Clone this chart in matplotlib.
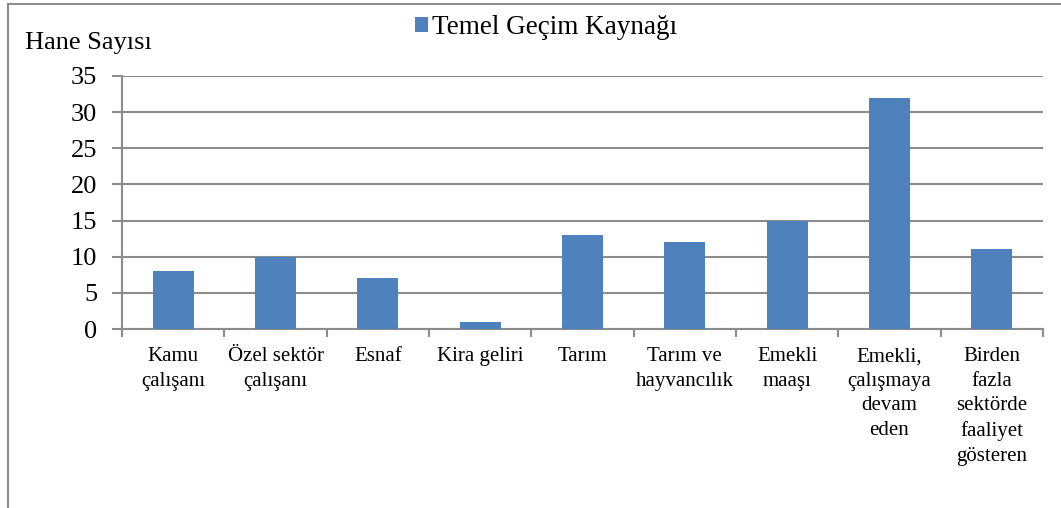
import matplotlib.pyplot as plt
from matplotlib.lines import Line2D
from matplotlib.patches import Patch
import numpy as np

plt.rcParams['font.family'] = ['Liberation Serif', 'DejaVu Serif']

categories = ['Kamu\nçalışanı', 'Özel sektör\nçalışanı', 'Esnaf', 'Kira geliri', 'Tarım',
              'Tarım ve\nhayvancılık', 'Emekli\nmaaşı', 'Emekli,\nçalışmaya\ndevam\neden',
              'Birden\nfazla\nsektörde\nfaaliyet\ngösteren']
values = [8, 10, 7, 1, 13, 12, 15, 32, 11]
yticks = [0, 5, 10, 15, 20, 25, 30, 35]

bar_color = '#4F81BD'
grid_color = '#8C8C8C'

fig = plt.figure(figsize=(10.61, 5.08), dpi=100)
ax = fig.add_axes([122 / 1061, 1 - 329 / 508, (1043 - 122) / 1061, (329 - 76) / 508])

x = np.arange(len(categories))
ax.bar(x, values, width=0.4, color=bar_color, zorder=3)

ax.set_xlim(-0.5, len(categories) - 0.5)
ax.set_ylim(0, 35)
ax.set_yticks(yticks)
ax.tick_params(axis='y', labelsize=19, length=7, width=1.5, color=grid_color, pad=11)
ax.yaxis.grid(True, color=grid_color, linewidth=1.5, zorder=0)

ax.set_xticks(x)
ax.set_xticklabels(categories, fontsize=15, linespacing=1.4, va='top')
ax.tick_params(axis='x', which='major', length=0, pad=13)
ax.set_xticks(np.arange(len(categories) + 1) - 0.5, minor=True)
ax.tick_params(axis='x', which='minor', length=6, width=1.5, color=grid_color)

for s in ['top', 'right']:
    ax.spines[s].set_visible(False)
for s in ['left', 'bottom']:
    ax.spines[s].set_color(grid_color)
    ax.spines[s].set_linewidth(1.5)

fig.text(25 / 1061, 1 - 49 / 508, 'Hane Sayısı', fontsize=19, ha='left', va='baseline')

handles = [Patch(facecolor=bar_color, label='Temel Geçim Kaynağı')]
fig.legend(handles=handles, loc='upper left', bbox_to_anchor=(404 / 1061, 1 - 4 / 508),
           frameon=False, fontsize=19.5, handlelength=0.48, handleheight=0.48,
           handletextpad=0.15, borderaxespad=0)

# outer chart border (top and left edges visible)
fig.add_artist(Line2D([8 / 1061, 1], [1 - 4 / 508, 1 - 4 / 508], color=grid_color, linewidth=1.5))
fig.add_artist(Line2D([8 / 1061, 8 / 1061], [0, 1 - 4 / 508], color=grid_color, linewidth=1.5))

fig.savefig('out.png', dpi=100)
